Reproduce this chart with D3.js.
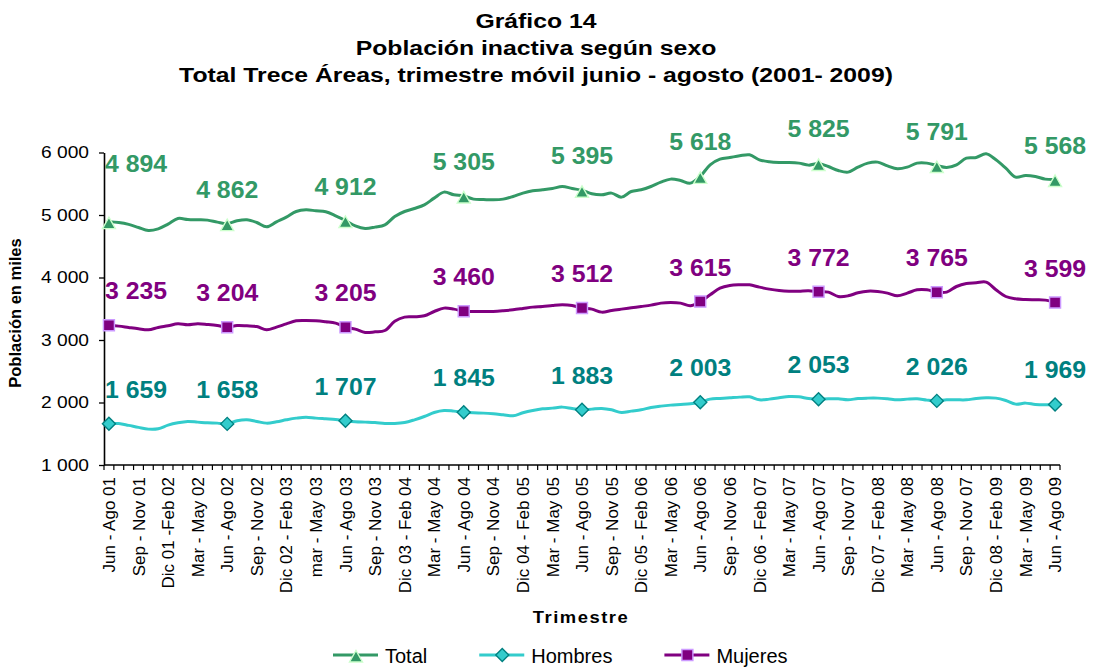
<!DOCTYPE html>
<html>
<head>
<meta charset="utf-8">
<script src="https://cdn.jsdelivr.net/npm/d3@7"></script>
<style>
  body { margin: 0; background: #fff; }
  svg { display: block; font-family: "Liberation Sans", Arial, sans-serif; }
</style>
</head>
<body>
<svg id="chart" width="1103" height="668"></svg>
<script>
// chart text
var titleLines = ["Gráfico 14", "Población inactiva según sexo", "Total Trece Áreas, trimestre móvil junio - agosto (2001- 2009)"];
var yTitle = "Población en miles";
var xTitle = "Trimestre";

// one label every third rolling quarter
var tickLabels = ["Jun - Ago 01", "Sep - Nov 01", "Dic 01 -Feb 02", "Mar - May 02", "Jun - Ago 02", "Sep - Nov 02",
  "Dic 02 - Feb 03", "mar - May 03", "Jun - Ago 03", "Sep - Nov 03", "Dic 03 - Feb 04", "Mar - May 04",
  "Jun - Ago 04", "Sep - Nov 04", "Dic 04 - Feb 05", "Mar - May 05", "Jun - Ago 05", "Sep - Nov 05",
  "Dic 05 - Feb 06", "Mar - May 06", "Jun - Ago 06", "Sep - Nov 06", "Dic  06 - Feb 07", "Mar - May 07",
  "Jun - Ago 07", "Sep - Nov 07", "Dic 07 - Feb 08", "Mar - May 08", "Jun - Ago 08", "Sep - Nov 07",
  "Dic 08 - Feb 09", "Mar - May 09", "Jun - Ago 09"];

var yTicks = [1000, 2000, 3000, 4000, 5000, 6000];

// monthly rolling quarters, Jun-Ago 01 .. Jun-Ago 09 (thousands)
var total = [
  4894, 4880, 4850, 4800, 4752, 4779, 4854, 4944, 4928, 4923, 4918, 4886,
  4862, 4907, 4923, 4880, 4811, 4891, 4966, 5056, 5083, 5067, 5051, 4987,
  4912, 4827, 4784, 4806, 4843, 4976, 5056, 5104, 5163, 5270, 5366, 5323,
  5305, 5254, 5248, 5243, 5254, 5296, 5350, 5387, 5403, 5424, 5456, 5424,
  5395, 5339, 5323, 5350, 5286, 5376, 5403, 5456, 5526, 5574, 5552, 5510,
  5618, 5803, 5894, 5920, 5947, 5963, 5883, 5851, 5840, 5840, 5830, 5798,
  5825, 5776, 5712, 5686, 5766, 5830, 5846, 5787, 5739, 5766, 5830, 5830,
  5791, 5760, 5803, 5910, 5920, 5979, 5883, 5750, 5606, 5632, 5616, 5574,
  5568];

var hombres = [
  1659, 1664, 1634, 1602, 1574, 1580, 1638, 1675, 1696, 1686, 1675, 1670,
  1658, 1707, 1723, 1696, 1670, 1691, 1723, 1750, 1766, 1750, 1739, 1728,
  1707, 1691, 1686, 1680, 1664, 1664, 1680, 1723, 1776, 1840, 1872, 1862,
  1845, 1835, 1830, 1819, 1803, 1787, 1835, 1872, 1899, 1910, 1926, 1904,
  1883, 1894, 1904, 1883, 1840, 1862, 1883, 1920, 1942, 1958, 1968, 1979,
  2003, 2054, 2064, 2075, 2086, 2091, 2043, 2054, 2075, 2096, 2091, 2064,
  2053, 2059, 2059, 2043, 2064, 2070, 2070, 2059, 2043, 2054, 2059, 2038,
  2026, 2043, 2043, 2043, 2064, 2075, 2070, 2032, 1974, 1990, 1968, 1963,
  1969];

var mujeres = [
  3235, 3222, 3200, 3179, 3163, 3200, 3227, 3259, 3243, 3259, 3248, 3232,
  3204, 3232, 3227, 3216, 3163, 3206, 3259, 3307, 3312, 3307, 3291, 3270,
  3205, 3174, 3120, 3131, 3152, 3300, 3366, 3371, 3387, 3456, 3510, 3494,
  3460, 3456, 3456, 3456, 3467, 3483, 3504, 3526, 3536, 3552, 3563, 3552,
  3512, 3494, 3446, 3472, 3494, 3515, 3536, 3558, 3590, 3600, 3590, 3547,
  3615, 3723, 3830, 3872, 3883, 3883, 3846, 3814, 3792, 3781, 3781, 3787,
  3772, 3766, 3696, 3707, 3755, 3781, 3776, 3750, 3707, 3750, 3803, 3803,
  3765, 3766, 3856, 3904, 3915, 3926, 3803, 3696, 3659, 3648, 3643, 3638,
  3599];

// styles
var series = [
  { name: "Total", values: total, line: "#339966", label: "#339966", fill: "#339966", stroke: "#CCFFCC", shape: "tri" },
  { name: "Hombres", values: hombres, line: "#33CCCC", label: "#008080", fill: "#33CCCC", stroke: "#008080", shape: "dia" },
  { name: "Mujeres", values: mujeres, line: "#800080", label: "#800080", fill: "#800080", stroke: "#CC99FF", shape: "sq" }
];

(function(){
  var svg = d3.select("#chart");
  var plotLeft = 104, plotRight = 1060, plotTop = 152.5, plotBottom = 465;

  var nx = total.length;
  var x = d3.scaleBand().domain(d3.range(nx)).range([plotLeft, plotRight]).padding(0);
  var bw = x.bandwidth();
  var cx = function(i){ return x(i) + bw / 2; };

  var y = d3.scaleLinear().domain([1000, 6000]).range([plotBottom, plotTop]);

  var nf = d3.formatLocale({ decimal: ",", thousands: " ", grouping: [3], currency: ["", ""] }).format(",");

  var shapes = {
    tri: "M0,-4.5L6.5,7L-6.5,7Z",
    dia: "M0,-6.5L6.5,0L0,6.5L-6.5,0Z",
    sq: "M-5.5,-5.5H5.5V5.5H-5.5Z"
  };

  // title, a bit wide like the original
  var tg = svg.append("g").attr("transform", "translate(536,0)");
  tg.selectAll("text").data(titleLines).enter().append("text")
    .attr("transform", function(d, k){ return "translate(0," + (28 + k * 27) + ") scale(1.18,1)"; })
    .attr("text-anchor", "middle")
    .attr("font-weight", "bold")
    .attr("font-size", 21)
    .text(function(d){ return d; });

  // y axis
  var yAxis = svg.append("g")
    .attr("transform", "translate(" + plotLeft + ",0)")
    .call(d3.axisLeft(y).tickValues(yTicks).tickSize(5).tickSizeOuter(0).tickFormat(nf));
  yAxis.select(".domain").attr("stroke", "#000").attr("stroke-width", 1.6);
  yAxis.selectAll(".tick line").attr("stroke", "#000").attr("stroke-width", 1.3);
  yAxis.selectAll(".tick text")
    .attr("x", -15 / 1.2)
    .attr("transform", "scale(1.2,1)")
    .attr("font-size", 16)
    .attr("font-family", "Liberation Sans, Arial, sans-serif")
    .attr("fill", "#000");

  svg.append("text")
    .attr("transform", "translate(21,313) rotate(-90)")
    .attr("text-anchor", "middle")
    .attr("font-weight", "bold")
    .attr("font-size", 16.5)
    .text(yTitle);

  // x axis: line, a tick at every band edge, a label every third band
  svg.append("line")
    .attr("x1", plotLeft).attr("x2", plotRight)
    .attr("y1", plotBottom).attr("y2", plotBottom)
    .attr("stroke", "#000").attr("stroke-width", 1.6);

  svg.append("g").selectAll("line")
    .data(d3.range(nx + 1)).enter().append("line")
    .attr("x1", function(k){ return plotLeft + k * x.step(); })
    .attr("x2", function(k){ return plotLeft + k * x.step(); })
    .attr("y1", plotBottom).attr("y2", plotBottom + 5)
    .attr("stroke", "#000").attr("stroke-width", 1.2);

  svg.append("g").selectAll("text")
    .data(tickLabels).enter().append("text")
    .attr("transform", function(d, k){ return "translate(" + cx(k * 3) + "," + (plotBottom + 12) + ") rotate(-90)"; })
    .attr("text-anchor", "end")
    .attr("dy", "0.36em")
    .attr("font-size", 17)
    .text(function(d){ return d; });

  svg.append("text")
    .attr("transform", "translate(581,623) scale(1.15,1)")
    .attr("text-anchor", "middle")
    .attr("font-weight", "bold")
    .attr("font-size", 16)
    .attr("letter-spacing", 1.3)
    .text(xTitle);

  // lines
  var line = d3.line()
    .x(function(d, i){ return cx(i); })
    .y(function(d){ return y(d); })
    .curve(d3.curveCatmullRom.alpha(0.5));

  svg.append("g").selectAll("path")
    .data(series).enter().append("path")
    .attr("d", function(s){ return line(s.values); })
    .attr("fill", "none")
    .attr("stroke", function(s){ return s.line; })
    .attr("stroke-width", 3)
    .attr("stroke-linejoin", "round");

  // markers and value labels each Jun - Ago
  var yearly = d3.range(0, nx, 12);
  series.forEach(function(s){
    var g = svg.append("g");
    g.selectAll("path")
      .data(yearly).enter().append("path")
      .attr("transform", function(i){ return "translate(" + cx(i) + "," + y(s.values[i]) + ")"; })
      .attr("d", shapes[s.shape])
      .attr("fill", s.fill)
      .attr("stroke", s.stroke)
      .attr("stroke-width", 1.4);

    var lab = g.selectAll("text.val")
      .data(yearly).enter().append("text")
      .attr("class", "val")
      .attr("text-anchor", "middle")
      .attr("font-weight", "bold")
      .attr("font-size", 23)
      .attr("fill", s.label)
      .text(function(i){ return nf(s.values[i]); });

    lab.each(function(i, k){
      var w = this.getComputedTextLength() * 1.08;
      var px = Math.max(cx(i), plotLeft + 1 + w / 2);
      px = Math.min(px, 1100 - w / 2);
      var up = (s.name === "Total" && k === 0) ? 50 : 26;
      d3.select(this).attr("transform", "translate(" + px + "," + (y(s.values[i]) - up) + ") scale(1.08,1)");
    });
  });

  // legend
  var lx = 333;
  series.forEach(function(s){
    var g = svg.append("g").attr("transform", "translate(" + lx + ",655)");
    g.append("line").attr("x1", 0).attr("x2", 45).attr("stroke", s.line).attr("stroke-width", 3);
    g.append("path").attr("transform", "translate(23,0)").attr("d", shapes[s.shape])
      .attr("fill", s.fill).attr("stroke", s.stroke).attr("stroke-width", 1.4);
    var t = g.append("text").attr("x", 52).attr("y", 8).attr("font-size", 20).text(s.name);
    lx += 52 + t.node().getComputedTextLength() + 52;
  });
})();
</script>
</body>
</html>
